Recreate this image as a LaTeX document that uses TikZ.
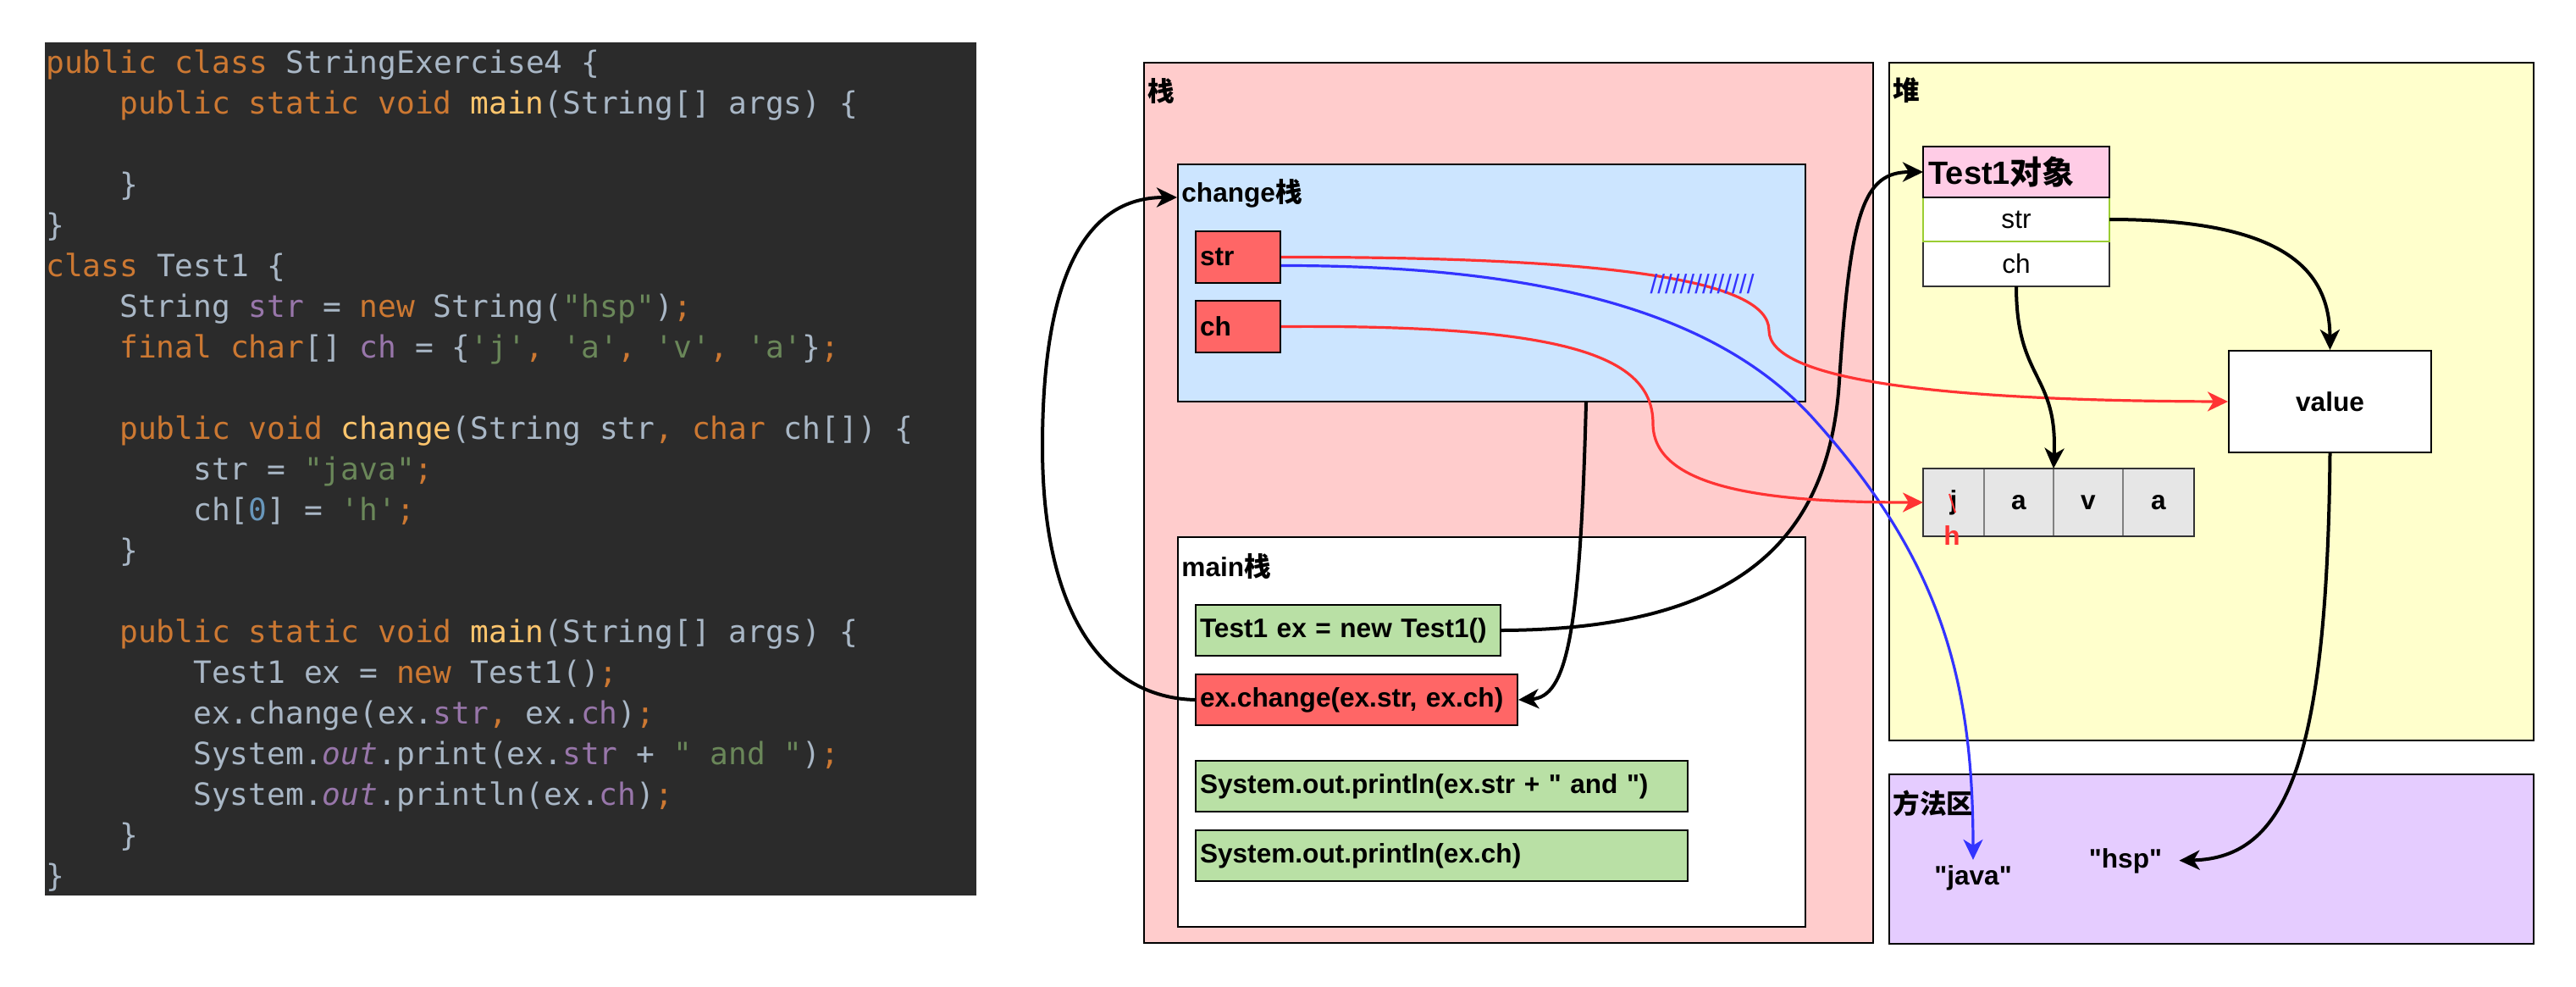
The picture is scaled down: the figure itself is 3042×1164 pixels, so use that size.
\documentclass[tikz,border=0pt]{standalone}
\usepackage{fontspec}
\setmainfont{Liberation Sans}[Ligatures=TeXOff]
\setmonofont{DejaVu Sans Mono}
\newfontfamily\cjk{Noto Sans CJK SC}
\usetikzlibrary{positioning,arrows.meta}

% code colours
\definecolor{codebg}{HTML}{2B2B2B}
\definecolor{plain}{HTML}{A9B7C6}
\definecolor{kwcol}{HTML}{CC7832}
\definecolor{fncol}{HTML}{FFC66D}
\definecolor{strcol}{HTML}{6A8759}
\definecolor{fldcol}{HTML}{9876AA}
\definecolor{numcol}{HTML}{6897BB}
% memory colours
\definecolor{stackpink}{HTML}{FFCCCC}
\definecolor{heapyellow}{HTML}{FFFFCC}
\definecolor{methodpurple}{HTML}{E5CCFF}
\definecolor{changeblue}{HTML}{CCE5FF}
\definecolor{varred}{HTML}{FF6666}
\definecolor{stmtgreen}{HTML}{B9E0A5}
\definecolor{headpink}{HTML}{FFCCE6}
\definecolor{cellfill}{HTML}{E6E6E6}
\definecolor{cellgray}{HTML}{808080}
\definecolor{cellborder}{HTML}{333333}
\definecolor{rowgreen}{HTML}{9ACD32}
\definecolor{linered}{HTML}{FF3333}
\definecolor{lineblue}{HTML}{3333FF}

\newcommand{\jkw}[1]{\textcolor{kwcol}{#1}}
\newcommand{\jfn}[1]{\textcolor{fncol}{#1}}
\newcommand{\jstr}[1]{\textcolor{strcol}{#1}}
\newcommand{\jfld}[1]{\textcolor{fldcol}{#1}}
\newcommand{\jnum}[1]{\textcolor{numcol}{#1}}
\newcommand{\jout}[1]{\textcolor{fldcol}{\itshape #1}}

\tikzstyle{code} = [anchor=base west, inner sep=0, text=plain, font=\ttfamily\fontsize{18.1}{24}\selectfont]
\tikzstyle{region} = [draw, line width=1pt, anchor=north west, inner sep=0]
\tikzstyle{tag} = [anchor=west, inner sep=0, font=\bfseries\fontsize{15.8}{19}\selectfont]
\tikzstyle{var} = [draw, line width=1pt, fill=varred, anchor=north west, align=left, inner xsep=2.5pt, inner ysep=0, minimum height=30pt, font=\bfseries\fontsize{15.8}{19}\selectfont]
\tikzstyle{stmt} = [var, fill=stmtgreen]
\tikzstyle{row} = [draw, line width=1pt, fill=white, minimum width=110pt, minimum height=26.5pt, outer sep=0, inner sep=0, font=\fontsize{15.8}{19}\selectfont]
\tikzstyle{cell} = [draw=cellgray, line width=1pt, fill=cellfill, minimum height=40pt, outer sep=0, inner sep=0, font=\bfseries\fontsize{15.8}{19}\selectfont]
\tikzstyle{arr} = [->, line width=2pt]
\tikzstyle{redarr} = [->, line width=1.6pt, draw=linered]
\tikzstyle{bluearr} = [->, line width=1.6pt, draw=lineblue]

\begin{document}
\begin{tikzpicture}[x=0.5pt,y=-0.5pt,>={Stealth[length=12pt,width=11.5pt,inset=3.5pt]}]

\useasboundingbox (0,0) rectangle (3042,1164);
\fill[white] (0,0) rectangle (3042,1164);

% source code
\node[fill=codebg, anchor=north west, inner sep=0, minimum width=550pt, minimum height=503.5pt] (codebox) at (53,50) {};
\node[code] (c0) at (54,86) {\jkw{public class} StringExercise4 \{};
\node[code] (c1) at (141,134) {\jkw{public static void} \jfn{main}(String[] args) \{};
\node[code] (c3) at (141,230) {\}};
\node[code] (c4) at (54,278) {\}};
\node[code] (c5) at (54,326) {\jkw{class} Test1 \{};
\node[code] (c6) at (141,374) {String \jfld{str} = \jkw{new} String(\jstr{"hsp"})\jkw{;}};
\node[code] (c7) at (141,422) {\jkw{final char}[] \jfld{ch} = \{\jstr{'j'}\jkw{,} \jstr{'a'}\jkw{,} \jstr{'v'}\jkw{,} \jstr{'a'}\}\jkw{;}};
\node[code] (c9) at (141,518) {\jkw{public void} \jfn{change}(String str\jkw{,} \jkw{char} ch[]) \{};
\node[code] (c10) at (228,566) {str = \jstr{"java"}\jkw{;}};
\node[code] (c11) at (228,614) {ch[\jnum{0}] = \jstr{'h'}\jkw{;}};
\node[code] (c12) at (141,662) {\}};
\node[code] (c14) at (141,758) {\jkw{public static void} \jfn{main}(String[] args) \{};
\node[code] (c15) at (228,806) {Test1 ex = \jkw{new} Test1()\jkw{;}};
\node[code] (c16) at (228,854) {ex.change(ex.\jfld{str}\jkw{,} ex.\jfld{ch})\jkw{;}};
\node[code] (c17) at (228,902) {System.\jout{out}.print(ex.\jfld{str} + \jstr{" and "})\jkw{;}};
\node[code] (c18) at (228,950) {System.\jout{out}.println(ex.\jfld{ch})\jkw{;}};
\node[code] (c19) at (141,998) {\}};
\node[code] (c20) at (54,1046) {\}};

% memory areas
\node[region, fill=stackpink, minimum width=430.5pt, minimum height=519.5pt] (stack) at (1350,73) {};
\node[region, fill=heapyellow, minimum width=380.5pt, minimum height=400pt] (heap) at (2230,73) {};
\node[region, fill=methodpurple, minimum width=380.5pt, minimum height=100pt] (method) at (2230,913) {};
\node[region, fill=changeblue, minimum width=370.5pt, minimum height=140pt] (changeframe) at (1390,193) {};
\node[region, fill=white, minimum width=370.5pt, minimum height=230pt] (mainframe) at (1390,633) {};

\node[tag] (stacklbl) at (1355,107) {\cjk 栈};
\node[tag] (heaplbl) at (2235,107) {\cjk 堆};
\node[tag] (methodlbl) at (2235,948) {\cjk 方法区};
\node[tag] (changelbl) at (1395,228) {change{\cjk 栈}};
\node[tag] (mainlbl) at (1395,668) {main{\cjk 栈}};

% change stack
\node[var, text width=45pt, minimum height=30.5pt] (strvar) at (1411,272) {str};
\node[var, text width=45pt, minimum height=30.5pt, below=9.5pt of strvar.south west, anchor=north west] (chvar) {ch};

% main stack
\node[stmt, text width=175pt] (newtest) at (1411,713) {Test1 ex = new Test1()};
\node[var, text width=185pt, below=10pt of newtest.south west, anchor=north west] (callchange) {ex.change(ex.str, ex.ch)};
\node[stmt, text width=285.5pt, below=20pt of callchange.south west, anchor=north west] (print1) {System.out.println(ex.str + " and ")};
\node[stmt, text width=285.5pt, below=10pt of print1.south west, anchor=north west] (print2) {System.out.println(ex.ch)};

% heap
\node[row, draw=cellborder, anchor=north west] (chrow) at (2271,285) {ch};
\node[row, draw=rowgreen, minimum height=26pt, above=0pt of chrow] (strrow) {str};
\node[row, fill=headpink, minimum height=30pt, above=0pt of strrow, text width=103.5pt, align=left, inner xsep=3.25pt, font=\bfseries\fontsize{19}{23}\selectfont] (objhead) {Test1{\cjk 对象}};

\node[region, fill=white, minimum width=119.5pt, minimum height=60pt, font=\bfseries\fontsize{15.8}{19}\selectfont] (value) at (2631,413) {value};

\node[cell, minimum width=36pt, anchor=north west] (a1) at (2271,553) {j};
\node[cell, minimum width=41pt, right=0pt of a1] (a2) {a};
\node[cell, minimum width=41pt, right=0pt of a2] (a3) {v};
\node[cell, minimum width=42pt, right=0pt of a3] (a4) {a};
\draw[line width=1pt, draw=cellborder] (a1.north west) rectangle (a4.south east);
\draw[line width=1pt, linered] ([xshift=-2.5pt, yshift=5pt]a1.center) -- ([xshift=1pt, yshift=-6pt]a1.center);
\node[tag, text=linered, anchor=center] (hnew) at (2305,632) {h};

% method area
\node[tag, anchor=center, inner sep=3pt] (java) at (2330,1036) {"java"};
\node[tag, anchor=center, inner sep=3pt] (hsp) at (2510,1016) {"hsp"};

% references
\draw[arr] (newtest.east) .. controls (2050,743) and (2160,640) .. (2172,450)
  .. controls (2185,250) and (2200,203) .. (objhead.west);
\draw[arr] (callchange.west) .. controls (1300,823) and (1231,720) .. (1231,527)
  .. controls (1231,330) and (1280,233) .. ([yshift=-20pt]changeframe.north west);
\draw[arr] ([xshift=-130pt]changeframe.south east) .. controls (1866,750) and (1850,823) .. (callchange.east);
\draw[redarr] (strvar.east) .. controls (1900,303) and (2089,330) .. (2089,390)
  .. controls (2089,450) and (2300,473) .. (value.west);
\draw[bluearr] ([yshift=-5pt]strvar.east) .. controls (1850,313) and (2040,380) .. (2144,497)
  .. controls (2290,660) and (2330,800) .. (java.north);
\draw[redarr] (chvar.east) .. controls (1850,383) and (1952,420) .. (1952,500)
  .. controls (1952,580) and (2100,593) .. (a1.west);
\draw[arr] (strrow.east) .. controls (2700,259) and (2751,320) .. (value.north);
\draw[arr] (chrow.south) .. controls (2381,450) and (2430,440) .. (a2.north east);
\draw[arr, shorten >=7pt] (value.south) .. controls (2748,900) and (2700,1013) .. (hsp.east);

\node[inner sep=0, text=lineblue, font=\fontsize{15.8}{19}\selectfont] (cross) at (2010,335) {//////////////};

\end{tikzpicture}
\end{document}
